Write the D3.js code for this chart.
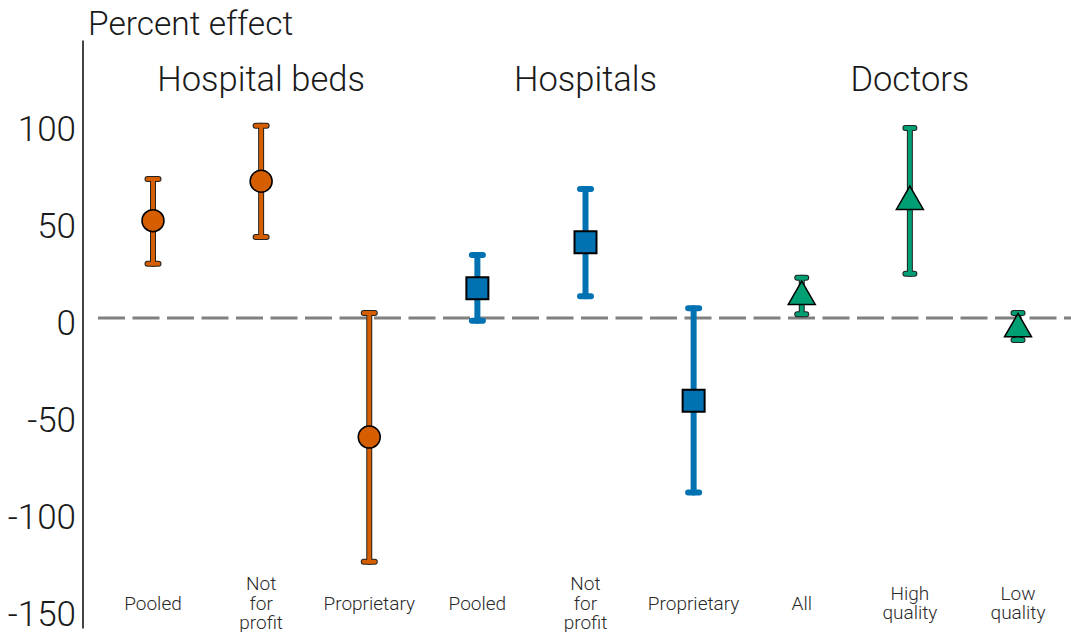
<!DOCTYPE html>
<html>
<head>
<meta charset="utf-8">
<script src="https://cdn.jsdelivr.net/npm/d3@7"></script>
<style>
  body { margin: 0; background: #fff; }
  svg { display: block; font-family: Roboto, "Noto Sans", sans-serif; }
</style>
</head>
<body>
<svg id="chart" width="1071" height="632"></svg>
<script>
// group headings and their colours / marker shapes
const groups = ["Hospital beds", "Hospitals", "Doctors"]
const groupColors = ["#D55E00", "#0072B2", "#009E73"]

// one entry per estimate, left to right
const categories = ["Pooled", "Not for profit", "Proprietary", "Pooled", "Not for profit", "Proprietary", "All", "High quality", "Low quality"]
const labelLines = [["Pooled"], ["Not", "for", "profit"], ["Proprietary"], ["Pooled"], ["Not", "for", "profit"], ["Proprietary"], ["All"], ["High", "quality"], ["Low", "quality"]]
const groupOf = [0, 0, 0, 1, 1, 1, 2, 2, 2]
const estimates = [50.2, 70.5, -61.4, 15.3, 39.0, -42.6, 11.0, 60.0, -5.7]
const lower = [28.0, 41.8, -125.6, -1.4, 11.2, -90.0, 1.9, 22.8, -11.3]
const upper = [71.6, 99.1, 2.6, 32.5, 66.5, 5.0, 20.8, 98.0, 2.6]

const yTicks = [100, 50, 0, -50, -100, -150]

const svg = d3.select("#chart")
const idx = d3.range(categories.length)

const x = d3.scalePoint()
    .domain(idx)
    .range([153, 1018])

const y = d3.scaleLinear()
    .domain([-160, 143])
    .range([628.4, 40.6])

// y axis line
svg.append("line")
    .attr("x1", 83).attr("x2", 83)
    .attr("y1", y(143)).attr("y2", y(-160))
    .attr("stroke", "#444").attr("stroke-width", 2)

// tick labels (no tick marks)
svg.append("g")
    .selectAll("text")
    .data(yTicks)
    .enter()
    .append("text")
        .attr("x", 76)
        .attr("y", d => y(d) + 4)
        .attr("dy", "0.36em")
        .attr("text-anchor", "end")
        .attr("font-size", 35)
        .attr("font-weight", 300)
        .attr("fill", "#1a1a1a")
        .text(d => d)

// axis title
svg.append("text")
    .attr("x", 88).attr("y", 35)
    .attr("font-size", 33.5)
    .attr("font-weight", 300)
    .attr("fill", "#1a1a1a")
    .text("Percent effect")

// zero reference line
svg.append("line")
    .attr("x1", 98).attr("x2", 1071)
    .attr("y1", y(0)).attr("y2", y(0))
    .attr("stroke", "#808080")
    .attr("stroke-width", 3)
    .attr("stroke-dasharray", "27,7.5")

// group headings, centred over the middle estimate of each group
svg.append("g")
    .selectAll("text")
    .data(groups)
    .enter()
    .append("text")
        .attr("x", (d, i) => x(i * 3 + 1))
        .attr("y", 91)
        .attr("text-anchor", "middle")
        .attr("font-size", 34.5)
        .attr("font-weight", 300)
        .attr("fill", "#1a1a1a")
        .text(d => d)

// category labels, vertically centred on one line
const catLabels = svg.append("g")
    .selectAll("text")
    .data(idx)
    .enter()
    .append("text")
        .attr("text-anchor", "middle")
        .attr("font-size", 19)
        .attr("font-weight", 300)
        .attr("fill", "#2a2a2a")

catLabels.each(function(i) {
    const lines = labelLines[i]
    const lh = 19.5
    const y0 = 603 - (lines.length - 1) * lh / 2
    d3.select(this).selectAll("tspan")
        .data(lines)
        .enter()
        .append("tspan")
            .attr("x", x(i))
            .attr("y", (d, k) => y0 + k * lh)
            .attr("dy", "0.35em")
            .text(d => d)
})

// error bars: blue ones have no outline, others a thin dark edge
const bars = svg.append("g")
const barSpec = [
    { w: 4, outline: true, cap: 11 },
    { w: 6, outline: false, cap: 11 },
    { w: 4, outline: true, cap: 9 }
]

idx.forEach(i => {
    const g = groupOf[i]
    const spec = barSpec[g]
    const cx = x(i)
    const segs = [
        [cx, y(lower[i]), cx, y(upper[i])],
        [cx - spec.cap / 2, y(upper[i]), cx + spec.cap / 2, y(upper[i])],
        [cx - spec.cap / 2, y(lower[i]), cx + spec.cap / 2, y(lower[i])]
    ]
    if (spec.outline) {
        segs.forEach(s => {
            bars.append("line")
                .attr("x1", s[0]).attr("y1", s[1]).attr("x2", s[2]).attr("y2", s[3])
                .attr("stroke", "#222")
                .attr("stroke-width", spec.w + 2)
                .attr("stroke-linecap", "round")
        })
    }
    segs.forEach(s => {
        bars.append("line")
            .attr("x1", s[0]).attr("y1", s[1]).attr("x2", s[2]).attr("y2", s[3])
            .attr("stroke", groupColors[g])
            .attr("stroke-width", spec.w)
            .attr("stroke-linecap", "round")
    })
})

// point estimates
const shapes = [
    d3.symbol().type(d3.symbolCircle).size(Math.PI * 11 * 11),
    d3.symbol().type(d3.symbolSquare).size(22 * 22),
    d3.symbol().type(d3.symbolTriangle).size(Math.sqrt(3) / 4 * 27 * 27)
]

svg.append("g")
    .selectAll("path")
    .data(idx)
    .enter()
    .append("path")
        .attr("d", i => shapes[groupOf[i]]())
        .attr("transform", i => `translate(${x(i)},${y(estimates[i])})`)
        .attr("fill", i => groupColors[groupOf[i]])
        .attr("stroke", "#000")
        .attr("stroke-width", i => groupOf[i] == 1 ? 2 : 1.5)
</script>
</body>
</html>
